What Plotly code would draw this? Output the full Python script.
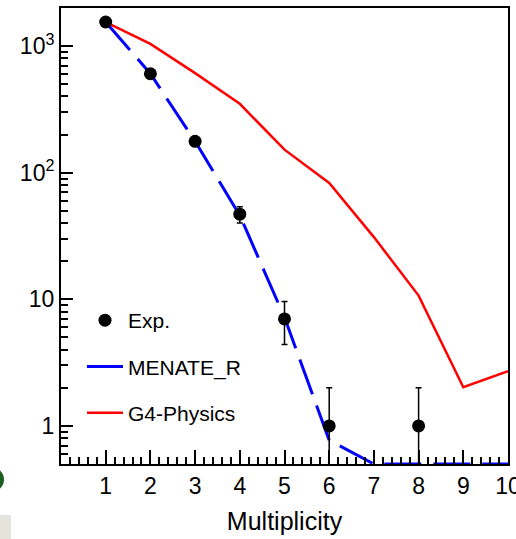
import plotly.graph_objects as go

# Neutron multiplicity distribution: measurement vs. two simulations
multiplicity = [1, 2, 3, 4, 5, 6, 7, 8, 9, 10]

exp_x = [1, 2, 3, 4, 5, 6, 8]
exp_counts = [1550, 605, 177, 47, 7, 1, 1]
exp_err = [39.4, 24.6, 13.3, 6.9, 2.6, 1.0, 1.0]

menate_r = [1550, 605, 177, 46, 7.2, 0.77, 0.5, 0.5, 0.5, 0.5]
g4_physics = [1550, 1040, 612, 350, 152, 83, 31, 10.7, 2.02, 2.7]

x_ticks = list(range(1, 11))
y_ticks = [1, 10, 100, 1000]
y_ticktext = ["1", "10", "10<sup>2</sup>", "10<sup>3</sup>"]

FONT = "Arial, Liberation Sans, sans-serif"

W, H = 516, 539
M_L, M_R, M_T, M_B = 61, 8, 8, 75
plot_w = W - M_L - M_R
plot_h = H - M_T - M_B


def px_x(p):
    return (p - M_L) / plot_w


def px_y(p):
    return (H - M_B - p) / plot_h


fig = go.Figure()

fig.add_trace(go.Scatter(
    x=multiplicity, y=g4_physics, mode="lines", name="G4-Physics",
    legendgroup="g4", legendrank=3, line=dict(color="#ff0000", width=2.5),
))
fig.add_trace(go.Scatter(
    x=multiplicity, y=menate_r, mode="lines", name="MENATE_R",
    legendgroup="menate", legendrank=2,
    line=dict(color="#0000ff", width=3, dash="37px,12px"),
))
fig.add_trace(go.Scatter(
    x=exp_x, y=exp_counts, mode="markers", name="Exp.",
    legendgroup="exp", legendrank=1,
    marker=dict(color="black", size=13),
    error_y=dict(
        type="data", array=exp_err,
        arrayminus=[min(e, 0.999 * v) for e, v in zip(exp_err, exp_counts)],
        color="black", thickness=1.5, width=3,
    ),
))

minor_y = [d * 10 ** e for e in range(-1, 4) for d in range(2, 10)]

fig.update_xaxes(
    range=[0, 10], tickvals=x_ticks, ticks="inside", ticklen=14, tickwidth=1.5,
    tickcolor="black", showline=True, linecolor="black", linewidth=2, mirror=True,
    showgrid=False, zeroline=False, ticklabeloverflow="allow",
    tickfont=dict(family=FONT, size=23, color="black"),
    minor=dict(dtick=0.2, ticks="inside", ticklen=7, tickwidth=1.5,
               tickcolor="black", showgrid=False),
    title=dict(text="Multiplicity", font=dict(family=FONT, size=25, color="black"),
               standoff=15),
    automargin=False,
)
fig.update_yaxes(
    type="log", range=[-0.30103, 3.30103], tickvals=y_ticks, ticktext=y_ticktext,
    ticks="inside", ticklen=12, tickwidth=1.5, tickcolor="black",
    showline=True, linecolor="black", linewidth=2, mirror=True,
    showgrid=False, zeroline=False,
    tickfont=dict(family=FONT, size=23, color="black"),
    minor=dict(tickvals=minor_y, ticks="inside", ticklen=7, tickwidth=1.5,
               tickcolor="black", showgrid=False),
    automargin=False,
)

fig.update_layout(
    width=W, height=H,
    margin=dict(l=M_L, r=M_R, t=M_T, b=M_B, pad=0),
    paper_bgcolor="white", plot_bgcolor="white",
    font=dict(family=FONT, color="black"),
    showlegend=True,
    legend=dict(
        x=px_x(82), y=px_y(300), xanchor="left", yanchor="top",
        traceorder="grouped", tracegroupgap=16,
        font=dict(family=FONT, size=21, color="black"),
        bgcolor="rgba(0,0,0,0)", itemwidth=36,
    ),
    shapes=[
        dict(type="circle", xref="paper", yref="paper",
             x0=px_x(-21), x1=px_x(4), y0=px_y(492), y1=px_y(467),
             fillcolor="#1b5e20", line=dict(width=0)),
        dict(type="rect", xref="paper", yref="paper",
             x0=px_x(0), x1=px_x(11), y0=px_y(545), y1=px_y(515),
             fillcolor="#e4e4dc", line=dict(width=0)),
    ],
)

fig.write_html("out.html")
